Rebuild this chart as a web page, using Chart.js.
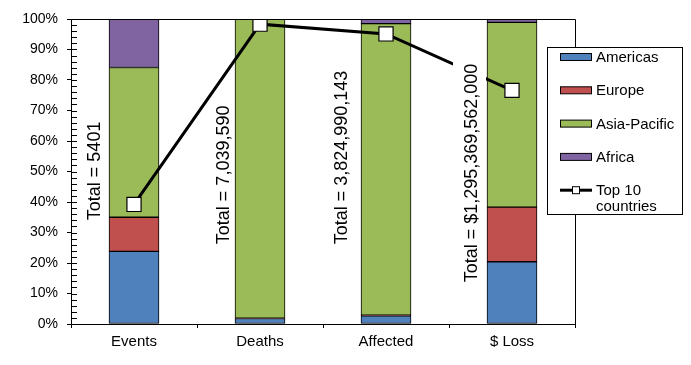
<!DOCTYPE html>
<html>
<head>
<meta charset="utf-8">
<script src="https://cdn.jsdelivr.net/npm/chart.js@4/dist/chart.umd.min.js"></script>
<style>
  body { margin: 0; background: #fff; }
</style>
</head>
<body>
<canvas id="regionchart" width="691" height="365"></canvas>
<script>
// shares in percent of each total
const categories = ['Events', 'Deaths', 'Affected', '$ Loss'];
const americas = [23.8, 1.8, 2.7, 20.4];
const europe = [11.2, 0.1, 0.2, 17.9];
const asiaPacific = [49.1, 98.1, 95.6, 60.6];
const africa = [15.9, 0.0, 1.5, 1.1];
const top10 = [39.2, 98.3, 95.1, 76.6];
const totals = ['Total = 5401', 'Total = 7,039,590', 'Total = 3,824,990,143', 'Total = $1,295,369,562,000'];
const yTicks = [0, 10, 20, 30, 40, 50, 60, 70, 80, 90, 100];

const FONT = '"Liberation Sans", Arial, sans-serif';

// draws the rotated totals, minor ticks, plot border and the legend box
const extras = {
    id: 'extras',
    afterDatasetsDraw(chart) {
        const ctx = chart.ctx;
        const x = chart.scales.x, y = chart.scales.y;
        const shiftX = [-40, -37, -45, -41];
        const midY = [50.2, 48.9, 54.6, 49.5];
        const boxed = [false, false, false, true];
        ctx.save();
        ctx.font = '18px ' + FONT;
        totals.forEach((txt, i) => {
            const px = x.getPixelForValue(i) + shiftX[i];
            const py = y.getPixelForValue(midY[i]);
            ctx.save();
            ctx.translate(px, py);
            ctx.rotate(-Math.PI / 2);
            const w = ctx.measureText(txt).width;
            if (boxed[i]) {
                // white text box hides the line behind the label
                ctx.fillStyle = '#fff';
                ctx.fillRect(-w / 2 - 6, -18, w + 12, 33);
            }
            ctx.fillStyle = '#000';
            ctx.textAlign = 'center';
            ctx.textBaseline = 'middle';
            ctx.fillText(txt, 0, 1);
            ctx.restore();
        });
        ctx.restore();
    },
    afterDraw(chart) {
        const ctx = chart.ctx;
        const area = chart.chartArea;
        const y = chart.scales.y;
        ctx.save();
        ctx.strokeStyle = '#000';
        ctx.lineWidth = 1;
        // minor ticks inside the plot
        ctx.beginPath();
        for (let v = 0; v <= 100; v += 2) {
            const py = Math.round(y.getPixelForValue(v)) + 0.5;
            ctx.moveTo(area.left, py);
            ctx.lineTo(area.left + 6, py);
        }
        // top and right border of the plot area
        ctx.moveTo(area.left, Math.round(area.top) + 0.5);
        ctx.lineTo(Math.round(area.right) + 0.5, Math.round(area.top) + 0.5);
        ctx.lineTo(Math.round(area.right) + 0.5, area.bottom);
        ctx.stroke();

        // legend
        const lx = 547, ly = 47, lw = 135, lh = 167;
        ctx.fillStyle = '#fff';
        ctx.fillRect(lx, ly, lw, lh);
        ctx.strokeRect(lx + 0.5, ly + 0.5, lw, lh);
        ctx.font = '15px ' + FONT;
        ctx.textBaseline = 'middle';
        const items = chart.data.datasets.slice().sort((a, b) => a.legendOrder - b.legendOrder);
        items.forEach((ds, i) => {
            const cy = 57 + i * 33.3;
            if (ds.type === 'line') {
                ctx.lineWidth = 3;
                ctx.beginPath();
                ctx.moveTo(560, cy);
                ctx.lineTo(592, cy);
                ctx.stroke();
                ctx.lineWidth = 1;
                ctx.fillStyle = '#fff';
                ctx.fillRect(572.5, cy - 3.5, 7, 7);
                ctx.strokeRect(572.5, cy - 3.5, 7, 7);
            } else {
                ctx.fillStyle = ds.backgroundColor;
                ctx.fillRect(560.5, cy - 3.5, 31, 7);
                ctx.lineWidth = 1;
                ctx.strokeRect(560.5, cy - 3.5, 31, 7);
            }
            // wrap label to fit box
            const words = ds.label.split(' ');
            const lines = [];
            let cur = '';
            words.forEach(wd => {
                const test = cur ? cur + ' ' + wd : wd;
                if (cur && ctx.measureText(test).width > 82) {
                    lines.push(cur);
                    cur = wd;
                } else {
                    cur = test;
                }
            });
            lines.push(cur);
            ctx.fillStyle = '#000';
            lines.forEach((ln, k) => ctx.fillText(ln, 596, cy + 1 + k * 16));
        });
        ctx.restore();
    }
};

const barDefaults = {
    type: 'bar',
    stack: 'regions',
    borderColor: '#000',
    borderWidth: 1,
    borderSkipped: false,
    barThickness: 50,
    order: 1
};

var ctx = document.getElementById('regionchart').getContext('2d');
var chart = new Chart(ctx, {
    data: {
        labels: categories,
        datasets: [
            Object.assign({ label: 'Americas', data: americas, backgroundColor: '#4F81BD', legendOrder: 0 }, barDefaults),
            Object.assign({ label: 'Europe', data: europe, backgroundColor: '#C0504D', legendOrder: 1 }, barDefaults),
            Object.assign({ label: 'Asia-Pacific', data: asiaPacific, backgroundColor: '#9BBB59', legendOrder: 2 }, barDefaults),
            Object.assign({ label: 'Africa', data: africa, backgroundColor: '#8064A2', legendOrder: 3 }, barDefaults),
            {
                type: 'line',
                label: 'Top 10 countries',
                data: top10,
                stack: 'top10',
                borderColor: '#000',
                borderWidth: 3,
                pointStyle: 'rect',
                pointRadius: 10,
                pointBackgroundColor: '#fff',
                pointBorderColor: '#000',
                pointBorderWidth: 1.2,
                fill: false,
                order: 0,
                legendOrder: 4
            }
        ]
    },
    options: {
        responsive: false,
        animation: false,
        layout: { padding: { top: 19, right: 116, left: 0, bottom: 0 } },
        plugins: {
            legend: { display: false },
            tooltip: { enabled: false }
        },
        scales: {
            x: {
                stacked: true,
                offset: true,
                afterFit: s => { s.height = 41; },
                grid: { offset: true, drawOnChartArea: false, tickLength: 4, tickColor: '#000' },
                border: { color: '#000' },
                ticks: { color: '#000', padding: 5, font: { family: FONT, size: 15 } }
            },
            y: {
                stacked: true,
                min: 0,
                max: 100,
                afterFit: s => { s.width = 71; },
                afterBuildTicks: s => { s.ticks = yTicks.map(v => ({ value: v })); },
                grid: { drawOnChartArea: false, tickLength: 4, tickColor: '#000' },
                border: { color: '#000' },
                ticks: {
                    color: '#000',
                    padding: 9,
                    font: { family: FONT, size: 14 },
                    callback: v => v + '%'
                }
            }
        }
    },
    plugins: [extras]
});
</script>
</body>
</html>
